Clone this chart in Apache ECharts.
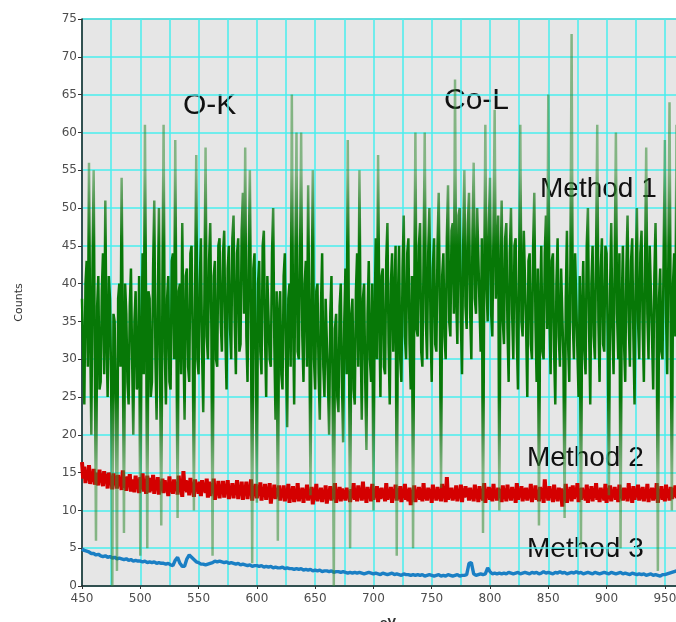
<!DOCTYPE html>
<html>
<head>
<meta charset="utf-8">
<script src="https://cdn.jsdelivr.net/npm/echarts@6/dist/echarts.min.js"></script>
<style>
  html, body { margin: 0; padding: 0; width: 100%; height: 100%; overflow: hidden; background: #fff; }
  #chart { width: 700px; height: 622px; }
</style>
</head>
<body>
<div id="chart"></div>
<script>
// energy channels (eV), 1 eV step, for Method 1 and Method 2
var energyFine = [
  450,451,452,453,454,455,456,457,458,459, 460,461,462,463,464,465,466,467,468,469,
  470,471,472,473,474,475,476,477,478,479, 480,481,482,483,484,485,486,487,488,489,
  490,491,492,493,494,495,496,497,498,499, 500,501,502,503,504,505,506,507,508,509,
  510,511,512,513,514,515,516,517,518,519, 520,521,522,523,524,525,526,527,528,529,
  530,531,532,533,534,535,536,537,538,539, 540,541,542,543,544,545,546,547,548,549,
  550,551,552,553,554,555,556,557,558,559, 560,561,562,563,564,565,566,567,568,569,
  570,571,572,573,574,575,576,577,578,579, 580,581,582,583,584,585,586,587,588,589,
  590,591,592,593,594,595,596,597,598,599, 600,601,602,603,604,605,606,607,608,609,
  610,611,612,613,614,615,616,617,618,619, 620,621,622,623,624,625,626,627,628,629,
  630,631,632,633,634,635,636,637,638,639, 640,641,642,643,644,645,646,647,648,649,
  650,651,652,653,654,655,656,657,658,659, 660,661,662,663,664,665,666,667,668,669,
  670,671,672,673,674,675,676,677,678,679, 680,681,682,683,684,685,686,687,688,689,
  690,691,692,693,694,695,696,697,698,699, 700,701,702,703,704,705,706,707,708,709,
  710,711,712,713,714,715,716,717,718,719, 720,721,722,723,724,725,726,727,728,729,
  730,731,732,733,734,735,736,737,738,739, 740,741,742,743,744,745,746,747,748,749,
  750,751,752,753,754,755,756,757,758,759, 760,761,762,763,764,765,766,767,768,769,
  770,771,772,773,774,775,776,777,778,779, 780,781,782,783,784,785,786,787,788,789,
  790,791,792,793,794,795,796,797,798,799, 800,801,802,803,804,805,806,807,808,809,
  810,811,812,813,814,815,816,817,818,819, 820,821,822,823,824,825,826,827,828,829,
  830,831,832,833,834,835,836,837,838,839, 840,841,842,843,844,845,846,847,848,849,
  850,851,852,853,854,855,856,857,858,859, 860,861,862,863,864,865,866,867,868,869,
  870,871,872,873,874,875,876,877,878,879, 880,881,882,883,884,885,886,887,888,889,
  890,891,892,893,894,895,896,897,898,899, 900,901,902,903,904,905,906,907,908,909,
  910,911,912,913,914,915,916,917,918,919, 920,921,922,923,924,925,926,927,928,929,
  930,931,932,933,934,935,936,937,938,939, 940,941,942,943,944,945,946,947,948,949,
  950,951,952,953,954,955,956,957,958,959, 960
];

// energy channels (eV), 2 eV step, for Method 3
var energyCoarse = [
  450,452,454,456,458,460,462,464,466,468,470,472,474,476,478,480,482,484,486,488,
  490,492,494,496,498,500,502,504,506,508,510,512,514,516,518,520,522,524,526,528,
  530,532,534,536,538,540,542,544,546,548,550,552,554,556,558,560,562,564,566,568,
  570,572,574,576,578,580,582,584,586,588,590,592,594,596,598,600,602,604,606,608,
  610,612,614,616,618,620,622,624,626,628,630,632,634,636,638,640,642,644,646,648,
  650,652,654,656,658,660,662,664,666,668,670,672,674,676,678,680,682,684,686,688,
  690,692,694,696,698,700,702,704,706,708,710,712,714,716,718,720,722,724,726,728,
  730,732,734,736,738,740,742,744,746,748,750,752,754,756,758,760,762,764,766,768,
  770,772,774,776,778,780,782,784,786,788,790,792,794,796,798,800,802,804,806,808,
  810,812,814,816,818,820,822,824,826,828,830,832,834,836,838,840,842,844,846,848,
  850,852,854,856,858,860,862,864,866,868,870,872,874,876,878,880,882,884,886,888,
  890,892,894,896,898,900,902,904,906,908,910,912,914,916,918,920,922,924,926,928,
  930,932,934,936,938,940,942,944,946,948,950,952,954,956,958,960
];

// Method 1 counts (1 eV channels)
var method1 = [
  38,31,24,40,43,29,56,34,20,42,  55,30,6,37,41,26,27,39,44,28,
  51,33,25,41,38,27,0,36,35,24,   2,38,40,29,54,33,7,40,36,27,
  24,37,42,30,20,35,39,26,27,41,  4,32,44,28,61,36,5,39,38,25,
  27,42,51,30,22,37,50,28,8,40,   61,31,24,38,41,27,26,43,44,30,
  59,34,9,39,40,28,48,33,22,41,   42,29,27,44,45,32,10,38,57,30,
  28,40,46,31,23,38,58,33,30,43,  48,34,4,41,43,30,29,45,46,35,
  31,44,47,33,26,42,45,34,30,46,  49,35,28,44,46,31,32,47,52,36,
  58,33,27,43,55,34,3,42,44,30,   11,40,43,31,28,45,47,33,25,41,
  41,30,29,44,50,32,22,39,6,36,   39,28,26,41,44,30,21,38,40,29,
  65,36,24,42,60,31,30,43,60,33,  27,40,43,29,53,35,12,38,55,30,
  26,39,40,28,22,37,44,29,25,38,  38,27,20,36,41,26,0,34,36,25,
  23,37,40,27,19,35,42,28,59,33,  5,36,38,26,24,39,44,29,55,34,
  22,38,40,27,18,36,43,30,27,40,  10,35,46,30,57,37,25,41,42,29,
  28,43,48,32,24,40,44,31,31,45,  4,38,45,30,27,42,49,33,30,44,
  46,32,26,41,5,37,60,34,33,45,   48,31,29,43,60,35,30,44,50,34,
  27,42,46,32,31,45,52,36,13,41,  44,33,30,46,53,35,33,47,48,36,
  67,38,32,49,50,35,28,45,55,37,  34,48,52,36,30,47,56,38,36,50,
  50,37,31,46,7,39,61,40,35,48,   54,36,33,47,63,38,38,49,10,40,
  51,35,32,46,48,34,27,44,50,36,  30,45,46,33,26,42,61,35,33,47,
  47,34,25,43,44,32,30,45,52,35,  27,42,8,37,45,31,30,44,49,34,
  65,36,28,43,44,31,24,40,46,33,  29,42,42,30,9,38,47,32,27,43,
  73,35,30,44,44,31,25,41,5,37,   43,31,28,45,50,34,24,40,45,33,
  30,44,61,35,27,42,46,32,31,45,  44,33,12,39,48,34,28,43,60,36,
  30,44,5,37,45,32,27,42,49,35,   29,43,46,33,24,41,50,35,30,44,
  47,34,27,42,58,36,30,45,45,33,  26,41,48,35,2,38,42,31,30,44,
  59,36,28,43,64,35,10,40,44,33,  61
];

// Method 2 counts (1 eV channels)
var method2 = [
  16.4,14.2,15.8,13.6,15.3,14.0,16.0,13.5,15.1,13.8, 15.5,13.4,15.0,14.1,13.3,15.4,13.7,14.9,13.2,15.2,
  13.6,14.8,12.9,15.0,13.8,14.5,12.8,14.9,13.4,14.6, 12.9,14.7,13.3,14.2,12.7,15.3,13.0,14.4,12.6,14.5,
  13.2,14.8,12.5,14.1,13.4,12.4,14.6,13.0,14.2,12.3, 14.4,12.8,14.9,12.5,13.9,12.2,14.6,13.1,12.4,14.3,
  12.6,14.7,12.2,13.8,12.9,14.4,12.1,13.6,12.8,14.2, 12.3,14.0,12.7,13.5,11.9,14.5,12.4,13.8,12.2,14.1,
  12.6,13.7,12.1,14.6,12.5,13.4,11.8,15.2,12.6,14.0, 12.4,13.9,12.0,14.3,12.6,13.5,11.8,14.1,12.9,13.6,
  12.2,13.8,11.9,14.0,12.5,13.6,12.3,14.2,11.7,13.8, 11.9,13.6,12.5,14.2,11.4,13.3,12.0,13.9,11.6,13.4,
  12.2,13.9,11.7,13.4,12.4,14.0,11.5,13.1,12.1,13.6, 11.6,13.3,12.4,14.0,11.5,13.2,12.0,13.8,11.4,13.1,
  12.2,13.8,11.5,13.2,12.0,14.1,11.3,13.0,12.3,13.5, 11.6,13.0,12.2,13.7,11.3,12.9,11.8,13.5,11.4,13.1,
  12.0,13.6,10.9,12.8,11.7,13.4,11.5,12.9,11.9,13.3, 11.3,12.7,11.8,13.3,11.2,12.8,11.6,13.5,11.0,12.6,
  11.9,13.2,11.1,12.7,11.5,13.6,11.2,12.5,11.8,13.0, 11.0,12.8,11.6,13.4,11.3,12.6,11.7,13.1,10.8,12.9,
  11.4,13.5,11.2,12.4,11.7,13.0,11.1,12.7,11.6,13.3, 10.9,12.5,11.8,13.2,11.3,12.8,11.5,13.6,11.0,12.6,
  11.7,13.1,11.2,12.9,11.5,12.7,11.3,13.0,11.8,12.5, 11.1,12.8,11.6,13.6,11.4,12.6,11.2,13.3,11.7,12.9,
  11.3,13.8,11.5,12.7,11.0,13.1,11.6,12.8,11.2,13.5, 11.4,12.6,11.8,13.2,11.1,12.9,11.5,13.0,11.7,12.5,
  11.2,13.6,11.4,12.8,11.6,13.1,11.0,12.7,11.8,13.4, 11.3,12.9,11.5,13.2,11.1,12.6,11.7,13.5,11.4,12.8,
  11.2,13.0,10.7,12.7,11.5,13.3,11.1,12.6,11.8,13.1, 11.4,12.9,11.2,13.6,11.5,12.7,11.3,13.0,11.7,12.8,
  11.0,13.4,11.6,12.6,11.3,13.1,11.5,12.8,11.2,13.5, 11.7,12.6,11.1,14.4,11.4,12.9,11.6,13.0,11.3,12.7,
  11.5,13.3,11.2,12.8,11.6,13.4,11.1,12.9,11.7,13.2, 11.8,12.9,11.3,13.0,11.5,12.7,11.2,13.4,11.6,12.6,
  11.1,13.2,11.5,12.8,11.3,13.6,11.0,12.7,11.8,13.1, 11.4,12.9,11.2,13.5,11.6,12.6,11.3,13.0,11.7,12.8,
  11.1,13.3,11.5,12.9,11.2,13.4,11.6,12.7,11.3,13.1, 11.7,12.8,11.0,13.6,11.4,12.6,11.8,13.2,11.2,12.9,
  11.5,13.0,11.3,12.7,11.6,13.5,11.1,12.8,11.7,13.3, 11.4,12.6,11.2,13.1,11.5,12.9,11.0,14.1,11.6,12.7,
  11.3,13.2,11.8,12.8,11.1,13.4,11.5,12.6,11.2,13.0, 11.6,12.9,10.5,12.7,11.3,13.5,11.0,12.8,11.7,13.1,
  11.2,13.3,11.5,12.6,11.8,13.6,11.1,12.9,11.4,13.0, 11.6,12.7,11.3,13.4,11.0,12.8,11.5,13.2,11.2,12.9,
  11.7,13.6,11.4,12.7,11.1,13.0,11.6,12.8,11.3,13.5, 11.0,12.9,11.5,13.3,11.2,12.6,11.8,13.1,11.4,12.8,
  11.1,13.4,11.6,12.7,11.3,13.0,11.5,12.9,11.2,13.6, 11.7,12.8,11.0,13.2,11.4,12.6,11.8,13.4,11.3,12.9,
  11.5,13.1,11.2,12.7,11.6,13.5,11.1,12.8,11.7,13.0, 11.3,12.9,11.5,13.6,11.0,12.7,11.6,13.2,11.4,12.8,
  11.2,13.4,11.7,12.6,11.3,13.1,11.5,12.9,11.8,13.3, 11.6
];

// Method 3 counts (2 eV channels)
var method3 = [
  4.9,4.7,4.6,4.5,4.3, 4.3,4.1,4.2,4.0,3.9, 4.0,3.8,3.9,3.7,3.8, 3.6,3.7,3.6,3.5,3.6,
  3.4,3.5,3.3,3.4,3.3, 3.3,3.2,3.3,3.1,3.2, 3.1,3.2,3.0,3.1,3.0, 3.0,2.9,3.0,2.8,2.7,
  3.4,3.8,3.0,2.6,2.6, 3.6,4.1,3.8,3.5,3.2, 3.1,2.9,2.9,2.8,2.9, 3.0,3.1,3.3,3.2,3.3,
  3.2,3.1,3.2,3.0,3.1, 3.0,2.9,3.0,2.8,2.9, 2.8,2.7,2.8,2.6,2.7, 2.7,2.6,2.7,2.5,2.6,
  2.5,2.6,2.4,2.5,2.4, 2.4,2.5,2.3,2.4,2.3, 2.3,2.2,2.3,2.2,2.3, 2.1,2.2,2.1,2.2,2.0,
  2.1,2.0,2.1,1.9,2.0, 2.0,1.9,2.0,1.8,1.9, 1.9,1.8,1.9,1.8,1.7, 1.8,1.7,1.8,1.7,1.8,
  1.7,1.6,1.7,1.8,1.7, 1.6,1.7,1.6,1.5,1.7, 1.6,1.5,1.6,1.7,1.5, 1.6,1.5,1.4,1.6,1.5,
  1.5,1.4,1.5,1.4,1.5, 1.4,1.5,1.3,1.4,1.5, 1.4,1.3,1.4,1.5,1.3, 1.4,1.3,1.5,1.4,1.3,
  1.4,1.5,1.3,1.4,1.4, 1.5,3.0,3.1,1.6,1.4, 1.5,1.6,1.5,1.6,2.4, 1.9,1.6,1.7,1.6,1.7,
  1.6,1.7,1.6,1.8,1.7, 1.6,1.7,1.8,1.6,1.7, 1.8,1.7,1.6,1.8,1.7, 1.8,1.6,1.7,1.9,1.7,
  1.8,1.7,1.6,1.8,1.7, 1.9,1.7,1.8,1.6,1.7, 1.8,1.7,1.9,1.7,1.8, 1.6,1.7,1.8,1.7,1.6,
  1.8,1.7,1.6,1.7,1.8, 1.7,1.6,1.8,1.7,1.6, 1.7,1.8,1.6,1.7,1.6, 1.5,1.7,1.6,1.5,1.6,
  1.5,1.6,1.4,1.5,1.6, 1.4,1.5,1.4,1.3,1.5, 1.5,1.6,1.7,1.8,1.9, 2.0
];

var xTicks = [450, 500, 550, 600, 650, 700, 750, 800, 850, 900, 950];

function pairs(xs, vals) {
  return xs.map(function (e, i) { return [e, vals[i]]; });
}

var labelFont = { fontFamily: 'DejaVu Sans', fontSize: 12, color: '#4d4d4d' };
var gridCyan = '#48eeee';
var gD = '#077807';                   // dense core
var gM = 'rgba(30,125,30,0.8)';
var gL = 'rgba(50,140,50,0.55)';      // isolated spikes

var chart = echarts.init(document.getElementById('chart'));
chart.setOption({
  animation: false,
  backgroundColor: '#ffffff',
  grid: {
    left: 82, top: 19, width: 612, height: 567,
    outerBoundsMode: 'none',
    show: true, backgroundColor: '#e6e6e6', borderColor: '#666', borderWidth: 1
  },
  xAxis: {
    type: 'value', min: 450, max: 975, interval: 50,
    name: 'eV', nameLocation: 'middle', nameGap: 32,
    nameTextStyle: { fontFamily: 'DejaVu Sans', fontSize: 11, fontWeight: 'bold', color: '#333' },
    axisLine: { lineStyle: { color: '#222', width: 1.5 } },
    axisTick: { show: true, length: 3, lineStyle: { color: '#333' } },
    axisLabel: Object.assign({
      margin: 7,
      formatter: function (v) { return xTicks.indexOf(v) >= 0 ? String(v) : ''; }
    }, labelFont),
    splitLine: { show: true, lineStyle: { color: gridCyan, width: 1.5 } },
    minorTick: { show: false, splitNumber: 2 },
    minorSplitLine: { show: true, lineStyle: { color: gridCyan, width: 1.5 } }
  },
  yAxis: {
    type: 'value', min: 0, max: 75, interval: 5,
    name: 'Counts', nameLocation: 'middle', nameGap: 57,
    nameTextStyle: { fontFamily: 'DejaVu Sans', fontSize: 11, color: '#333' },
    axisLine: { show: true, lineStyle: { color: '#222', width: 1.5 } },
    axisTick: { show: true, length: 4, lineStyle: { color: '#333' } },
    axisLabel: Object.assign({ margin: 5 }, labelFont),
    splitLine: { show: true, lineStyle: { color: gridCyan, width: 1.5 } }
  },
  visualMap: {
    show: false, type: 'continuous', seriesIndex: 2, dimension: 1, min: 0, max: 75,
    inRange: { color: [gL, gL, gL, gL, gM, gD, gD, gD, gD, gD, gM, gL, gL, gL, gL, gL] }
  },
  series: [
    {
      name: 'Method 3', type: 'line', showSymbol: false, z: 2,
      data: pairs(energyCoarse, method3),
      lineStyle: { color: '#1a7fc4', width: 3.4 }
    },
    {
      name: 'Method 2', type: 'line', showSymbol: false, z: 3,
      data: pairs(energyFine, method2),
      lineStyle: { color: '#d40000', width: 4 }
    },
    {
      name: 'Method 1', type: 'line', showSymbol: false, z: 4,
      data: pairs(energyFine, method1),
      lineStyle: { width: 2.5 }
    }
  ],
  graphic: [
    { type: 'text', left: 183, top: 91, style: { text: 'O-K', font: '30px "Liberation Sans"', fill: '#111' } },
    { type: 'text', left: 444, top: 86, style: { text: 'Co-L', font: '30px "Liberation Sans"', fill: '#111' } },
    { type: 'text', left: 540, top: 175, style: { text: 'Method 1', font: '28px "Liberation Sans"', fill: '#111' } },
    { type: 'text', left: 527, top: 444, style: { text: 'Method 2', font: '28px "Liberation Sans"', fill: '#111' } },
    { type: 'text', left: 527, top: 535, style: { text: 'Method 3', font: '28px "Liberation Sans"', fill: '#111' } }
  ]
});
</script>
</body>
</html>
